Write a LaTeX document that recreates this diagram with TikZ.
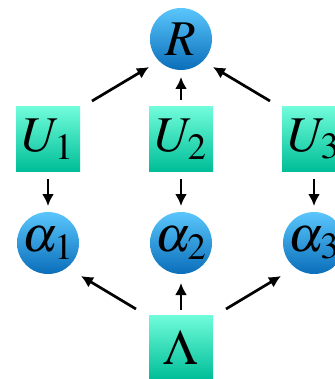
\documentclass[tikz,border=0pt]{standalone}
\usepackage{mathptmx}
\usetikzlibrary{arrows.meta,calc}
\tikzset{
  x=1pt,y=-1pt,
  bluenode/.style={circle,minimum size=62pt,inner sep=0pt,shading=axis,top color=blue1,bottom color=blue2,font=\fontsize{50}{50}\selectfont},
  greennode/.style={rectangle,minimum size=64pt,inner sep=0pt,shading=axis,top color=green1,bottom color=green2,font=\fontsize{50}{50}\selectfont},
  arr/.style={line width=2.7pt,-{Latex[length=12pt,width=12pt]}}
}
\definecolor{blue1}{HTML}{5AC6FC}
\definecolor{blue2}{HTML}{0A6EBA}
\definecolor{green1}{HTML}{70FCDA}
\definecolor{green2}{HTML}{00BE98}
\begin{document}
\begin{tikzpicture}
\useasboundingbox (0,0) rectangle (334,379);
\node[bluenode] (R) at (181,39) {$R$};
\node[greennode] (U1) at (48,139) {$U_1$};
\node[greennode] (U2) at (181,139) {$U_2$};
\node[greennode] (U3) at (314,139) {$U_3$};
\node[bluenode] (a1) at (48,243) {$\alpha_1$};
\node[bluenode] (a2) at (181,243) {$\alpha_2$};
\node[bluenode] (a3) at (314,243) {$\alpha_3$};
\node[greennode] (L) at (181,347) {$\Lambda$};
\draw[arr] ($(U1)+(44,-38)$) -- ($(R)+(-32,28)$);
\draw[arr] ($(U3)+(-44,-38)$) -- ($(R)+(32,28)$);
\draw[arr] ($(U2)!39pt!(R)$) -- ($(R)!38pt!(U2)$);
\draw[arr] ($(U1)!40pt!(a1)$) -- ($(a1)!37pt!(U1)$);
\draw[arr] ($(U2)!40pt!(a2)$) -- ($(a2)!37pt!(U2)$);
\draw[arr] ($(U3)!40pt!(a3)$) -- ($(a3)!37pt!(U3)$);
\draw[arr] ($(L)!37pt!(a2)$) -- ($(a2)!40pt!(L)$);
\draw[arr] ($(L)+(-45,-38)$) -- ($(a1)+(33,33)$);
\draw[arr] ($(L)+(45,-38)$) -- ($(a3)+(-33,33)$);
\end{tikzpicture}
\end{document}
